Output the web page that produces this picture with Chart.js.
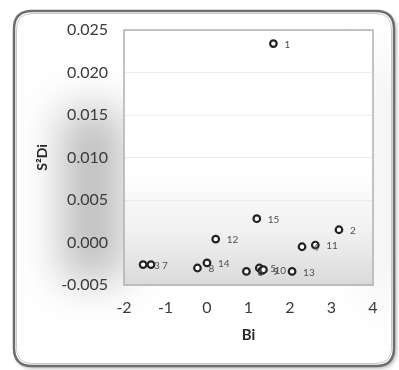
<!DOCTYPE html>
<html>
<head>
<meta charset="utf-8">
<script src="https://cdn.jsdelivr.net/npm/chart.js@4/dist/chart.umd.min.js"></script>
<style>
  html, body { margin: 0; padding: 0; background: #fff; }
  #wrap { width: 399px; height: 370px; position: relative; }
</style>
</head>
<body>
<div id="wrap"><canvas id="chart" width="399" height="370"></canvas></div>
<script>
// values
const pointLabels = ["1", "2", "3", "4", "5", "6", "7", "8", "9", "10", "11", "12", "13", "14", "15"];
const bi = [1.60, 3.18, -1.54, 2.29, 1.26, 0.95, -1.35, -0.23, 1.32, 1.36, 2.61, 0.21, 2.05, 0.00, 1.20];
const s2di = [0.0234, 0.0015, -0.0026, -0.0005, -0.0030, -0.0034, -0.0026, -0.0030, -0.0033, -0.0032, -0.0003, 0.0004, -0.0034, -0.0024, 0.0028];
const xTicks = [-2, -1, 0, 1, 2, 3, 4];
const yTicks = [-0.005, 0.000, 0.005, 0.010, 0.015, 0.020, 0.025];

const fontFam = "Lato, 'Open Sans', sans-serif";

function roundRect(ctx, x, y, w, h, r) {
    ctx.beginPath();
    ctx.moveTo(x + r, y);
    ctx.lineTo(x + w - r, y);
    ctx.quadraticCurveTo(x + w, y, x + w, y + r);
    ctx.lineTo(x + w, y + h - r);
    ctx.quadraticCurveTo(x + w, y + h, x + w - r, y + h);
    ctx.lineTo(x + r, y + h);
    ctx.quadraticCurveTo(x, y + h, x, y + h - r);
    ctx.lineTo(x, y + r);
    ctx.quadraticCurveTo(x, y, x + r, y);
    ctx.closePath();
}

// frame, shading and plot-area background
const backdrop = {
    id: 'backdrop',
    beforeDraw(chart) {
        const ctx = chart.ctx;
        const a = chart.chartArea;
        ctx.save();
        ctx.fillStyle = '#ffffff';
        ctx.fillRect(0, 0, chart.width, chart.height);

        // frame shadow
        ctx.save();
        ctx.shadowColor = 'rgba(0,0,0,0.35)';
        ctx.shadowBlur = 4;
        ctx.shadowOffsetX = 2;
        ctx.shadowOffsetY = 2;
        roundRect(ctx, 14, 11, 380, 355, 18);
        ctx.fillStyle = '#ffffff';
        ctx.fill();
        ctx.restore();

        // soft grey glow left of the plot
        ctx.save();
        roundRect(ctx, 14, 11, 380, 355, 18);
        ctx.clip();
        ctx.filter = 'blur(22px)';
        ctx.fillStyle = 'rgba(160,160,160,0.7)';
        ctx.fillRect(62, 110, 62, 170);
        ctx.fillStyle = 'rgba(200,200,200,0.5)';
        ctx.fillRect(374, 60, 18, 240);
        ctx.restore();

        roundRect(ctx, 14, 11, 380, 355, 18);
        ctx.lineWidth = 2.5;
        ctx.strokeStyle = '#6e6e6e';
        ctx.stroke();
        roundRect(ctx, 16.5, 13.5, 375, 350, 16);
        ctx.lineWidth = 1;
        ctx.strokeStyle = '#c8c8c8';
        ctx.stroke();

        // plot area
        const g = ctx.createLinearGradient(0, a.top, 0, a.bottom);
        g.addColorStop(0, '#ffffff');
        g.addColorStop(0.55, '#ffffff');
        g.addColorStop(0.8, '#f0f0f0');
        g.addColorStop(1, '#dadada');
        ctx.fillStyle = g;
        ctx.fillRect(a.left, a.top, a.right - a.left, a.bottom - a.top);
        ctx.restore();
    },
    afterDraw(chart) {
        const ctx = chart.ctx;
        const a = chart.chartArea;
        ctx.save();
        ctx.strokeStyle = '#b0b0b0';
        ctx.lineWidth = 1.5;
        ctx.strokeRect(a.left, a.top, a.right - a.left, a.bottom - a.top);
        ctx.restore();
    }
};

// number labels beside each point
const pointTags = {
    id: 'pointTags',
    afterDatasetsDraw(chart) {
        const ctx = chart.ctx;
        const meta = chart.getDatasetMeta(0);
        ctx.save();
        ctx.font = "10px " + fontFam;
        ctx.fillStyle = '#505050';
        ctx.textAlign = 'left';
        ctx.textBaseline = 'middle';
        meta.data.forEach((pt, i) => {
            ctx.fillText(pointLabels[i], pt.x + 11, pt.y + 1);
        });
        ctx.restore();
    }
};

const ctx = document.getElementById('chart').getContext('2d');
new Chart(ctx, {
    type: 'scatter',
    data: {
        datasets: [{
            label: 'S2Di',
            data: bi.map((x, i) => ({ x: x, y: s2di[i] })),
            pointStyle: 'circle',
            pointRadius: 3.3,
            pointBorderWidth: 2.2,
            borderColor: '#222222',
            backgroundColor: '#ffffff'
        }]
    },
    options: {
        responsive: false,
        animation: false,
        layout: { padding: { left: 15, right: 26, top: 30, bottom: 12 } },
        plugins: {
            legend: { display: false },
            tooltip: { enabled: false }
        },
        scales: {
            x: {
                type: 'linear',
                min: xTicks[0],
                max: xTicks[xTicks.length - 1],
                afterBuildTicks: s => { s.ticks = xTicks.map(v => ({ value: v })); },
                afterFit: s => { s.height = 73; },
                grid: { display: false, drawTicks: false },
                border: { display: false },
                ticks: {
                    padding: 13,
                    color: '#3a3a3a',
                    font: { family: fontFam, size: 16 },
                    callback: v => String(v)
                },
                title: {
                    display: true,
                    text: 'Bi',
                    color: '#262626',
                    font: { family: fontFam, size: 15, weight: 'bold' },
                    padding: { top: 0, bottom: 14 }
                }
            },
            y: {
                type: 'linear',
                min: yTicks[0],
                max: yTicks[yTicks.length - 1],
                afterBuildTicks: s => { s.ticks = yTicks.map(v => ({ value: v })); },
                afterFit: s => { s.width = 109; },
                grid: { color: '#ebebeb', lineWidth: 1, drawTicks: false },
                border: { display: false },
                ticks: {
                    padding: 16,
                    color: '#3a3a3a',
                    font: { family: fontFam, size: 16 },
                    callback: v => v.toFixed(3)
                },
                title: {
                    display: true,
                    text: 'S²Di',
                    color: '#262626',
                    font: { family: fontFam, size: 14, weight: 'bold' },
                    padding: { top: 19, bottom: 0 }
                }
            }
        }
    },
    plugins: [backdrop, pointTags]
});
</script>
</body>
</html>
